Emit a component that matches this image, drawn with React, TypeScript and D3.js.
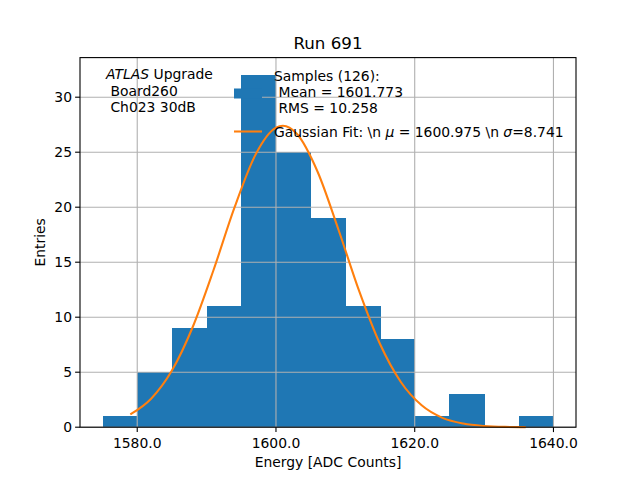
import React, { useEffect } from 'react';
import * as d3 from 'd3';

// histogram bins (left edges, width 5) and counts
const binEdges = [1575, 1580, 1585, 1590, 1595, 1600, 1605, 1610, 1615, 1620, 1625, 1630, 1635, 1640];
const binCounts = [1, 5, 9, 11, 32, 25, 19, 11, 8, 1, 3, 0, 1];

// gaussian fit curve
const fitX = [1579, 1582, 1585, 1588, 1591, 1594, 1597, 1600, 1601, 1603, 1606, 1609, 1612, 1615, 1618, 1621, 1624, 1627, 1630, 1633, 1636];
const fitY = [1.16, 2.59, 5.15, 9.11, 14.29, 19.93, 24.71, 27.23, 27.4, 26.67, 23.22, 17.97, 12.37, 7.56, 4.11, 1.99, 0.85, 0.33, 0.11, 0.03, 0.01];

const xTicks = [1580, 1600, 1620, 1640];
const yTicks = [0, 5, 10, 15, 20, 25, 30];

const W = 640;
const H = 480;
const margin = { top: 57.6, right: 64, bottom: 52.8, left: 80 };
const FONT = 'DejaVu Sans, sans-serif';

const App: React.FC = () => {
  useEffect(() => {
    document.body.style.margin = '0';
  }, []);

  const x = d3.scaleLinear().domain([1571.75, 1643.25]).range([margin.left, W - margin.right]);
  const y = d3.scaleLinear().domain([0, 33.6]).range([H - margin.bottom, margin.top]);

  const fitLine = d3.line<number>()
    .x((_, i) => x(fitX[i]))
    .y(d => y(d))
    .curve(d3.curveMonotoneX);

  const x0 = margin.left;
  const x1 = W - margin.right;
  const y0 = H - margin.bottom;
  const y1 = margin.top;

  return (
    <svg width={W} height={H} style={{ display: 'block' }} fontFamily={FONT}>
      <rect width={W} height={H} fill="#fff" />

      {/* Bars */}
      <g shapeRendering="crispEdges">
        {binCounts.map((c, i) => c > 0 && (
          <rect
            key={i}
            x={x(binEdges[i])}
            y={y(c)}
            width={x(binEdges[i + 1]) - x(binEdges[i]) + 0.5}
            height={y(0) - y(c)}
            fill="#1f77b4"
          />
        ))}
      </g>

      {/* Grid */}
      <g stroke="#b0b0b0" strokeWidth={1.1}>
        {xTicks.map(t => <line key={'gx' + t} x1={x(t)} x2={x(t)} y1={y0} y2={y1} />)}
        {yTicks.map(t => <line key={'gy' + t} x1={x0} x2={x1} y1={y(t)} y2={y(t)} />)}
      </g>

      {/* Fit */}
      <path d={fitLine(fitY) || ''} fill="none" stroke="#ff7f0e" strokeWidth={2.08} />

      {/* Spines */}
      <rect x={x0} y={y1} width={x1 - x0} height={y0 - y1} fill="none" stroke="#000" strokeWidth={1.1} />

      {/* X axis */}
      {xTicks.map(t => (
        <g key={'xt' + t}>
          <line x1={x(t)} x2={x(t)} y1={y0} y2={y0 + 4.9} stroke="#000" strokeWidth={1.1} />
          <text x={x(t)} y={448} fontSize={13.9} textAnchor="middle">{t.toFixed(1)}</text>
        </g>
      ))}
      <text x={(x0 + x1) / 2} y={467} fontSize={13.9} textAnchor="middle">Energy [ADC Counts]</text>

      {/* Y axis */}
      {yTicks.map(t => (
        <g key={'yt' + t}>
          <line x1={x0 - 4.9} x2={x0} y1={y(t)} y2={y(t)} stroke="#000" strokeWidth={1.1} />
          <text x={x0 - 8} y={y(t) + 5} fontSize={13.9} textAnchor="end">{t}</text>
        </g>
      ))}
      <text transform={`translate(45,${(y0 + y1) / 2}) rotate(-90)`} fontSize={13.9} textAnchor="middle">Entries</text>

      {/* Title */}
      <text x={(x0 + x1) / 2} y={49} fontSize={16.7} textAnchor="middle">Run 691</text>

      {/* Annotation */}
      <g fontSize={13.9}>
        <text x={106} y={79}><tspan fontStyle="italic">ATLAS</tspan> Upgrade</text>
        <text x={106} y={96} xmlSpace="preserve">{' Board260'}</text>
        <text x={106} y={112} xmlSpace="preserve">{' Ch023 30dB'}</text>
      </g>

      {/* Legend */}
      <g fontSize={13.9}>
        <rect x={234} y={88.5} width={28} height={10} fill="#1f77b4" />
        <text x={274} y={81}>Samples (126):</text>
        <text x={274} y={97} xmlSpace="preserve">{' Mean = 1601.773'}</text>
        <text x={274} y={113} xmlSpace="preserve">{' RMS = 10.258'}</text>
        <line x1={234} x2={262} y1={131.5} y2={131.5} stroke="#ff7f0e" strokeWidth={2.08} />
        <text x={274} y={137} xmlSpace="preserve">
          {'Gaussian Fit: \\n '}<tspan fontStyle="italic">μ</tspan>{' = 1600.975 \\n '}<tspan fontStyle="italic">σ</tspan>{'=8.741'}
        </text>
      </g>
    </svg>
  );
};

export default App;
